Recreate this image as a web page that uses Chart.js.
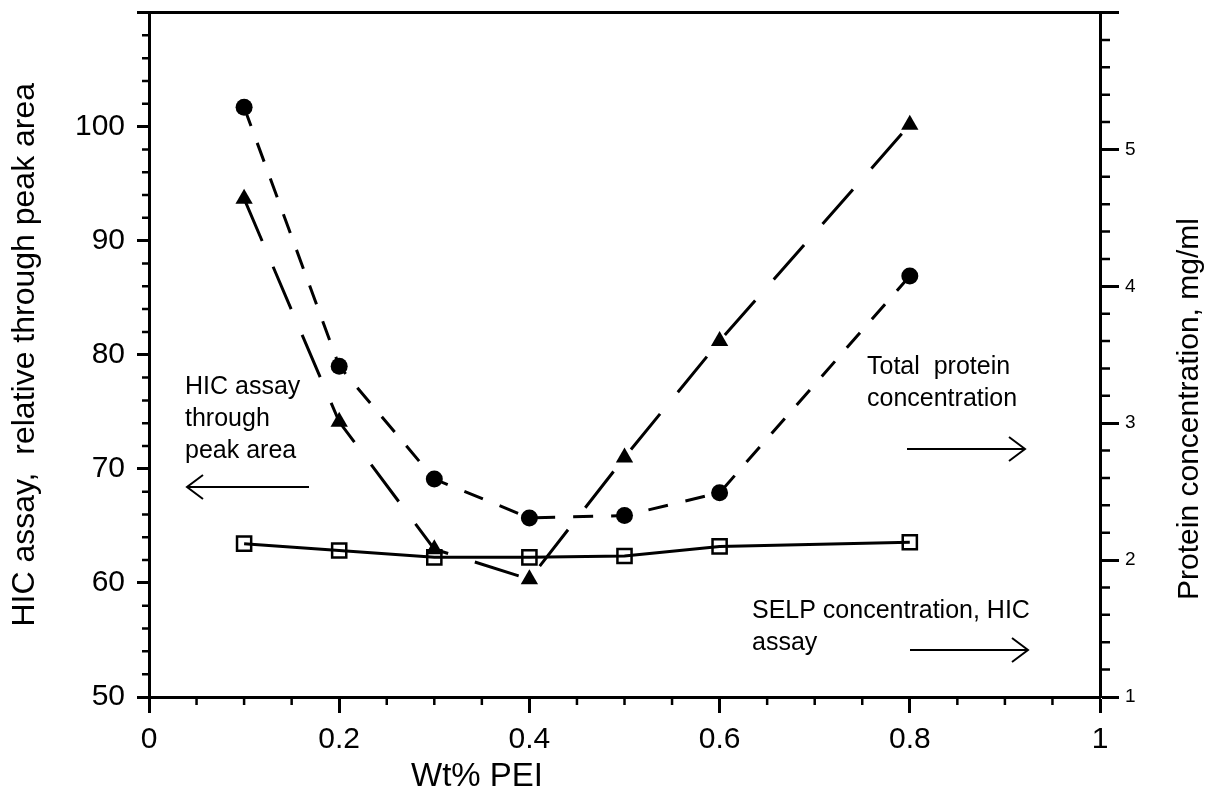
<!DOCTYPE html>
<html><head><meta charset="utf-8">
<script src="https://cdn.jsdelivr.net/npm/chart.js@4/dist/chart.umd.min.js"></script>
<style>html,body{margin:0;padding:0;background:#fff;} #wrap{width:1207px;height:807px;position:relative;}</style>
</head><body><div id="wrap"><canvas id="c" width="1207" height="807"></canvas></div>
<script>
// ---- data ----
const wtPEI = [0.1, 0.2, 0.3, 0.4, 0.5, 0.6, 0.8];
const hicPeakArea = [101.7, 79.0, 69.1, 65.7, 65.9, 67.9, 86.9];   // left axis
const totalProtein = [4.64, 3.01, 2.08, 1.86, 2.75, 3.60, 5.18];  // right axis, mg/ml
const selpConc = [2.12, 2.07, 2.02, 2.02, 2.03, 2.10, 2.13];      // right axis, mg/ml
const xTicks = [0, 0.2, 0.4, 0.6, 0.8, 1];
const xTickLabels = ['0', '0.2', '0.4', '0.6', '0.8', '1'];
const leftTicks = [50, 60, 70, 80, 90, 100];
const rightTicks = [1, 2, 3, 4, 5];
const xTitle = 'Wt% PEI';
const leftTitle = 'HIC assay,  relative through peak area';
const rightTitle = 'Protein concentration, mg/ml';
const noteHIC = ['HIC assay', 'through', 'peak area'];
const noteTotal = ['Total  protein', 'concentration'];
const noteSELP = ['SELP concentration, HIC', 'assay'];

const FONT = '"Liberation Sans", Arial, Helvetica, sans-serif';
const pts = (ys) => wtPEI.map((x, i) => ({x: x, y: ys[i]}));
const near = (arr, v, eps) => arr.findIndex(t => Math.abs(t - v) < eps);

function arrow(ctx, x1, x2, y) {
  const dir = Math.sign(x2 - x1);
  ctx.beginPath();
  ctx.moveTo(x1, y); ctx.lineTo(x2, y);
  ctx.moveTo(x2 - dir * 16, y - 12); ctx.lineTo(x2, y); ctx.lineTo(x2 - dir * 16, y + 12);
  ctx.stroke();
}

const decor = {
  id: 'decor',
  afterDraw(chart) {
    const ctx = chart.ctx;
    const {left, right, top, bottom} = chart.chartArea;
    const sx = chart.scales.x, sy = chart.scales.y, sy2 = chart.scales.y2;
    ctx.save();
    ctx.strokeStyle = '#000';
    ctx.fillStyle = '#000';
    ctx.lineCap = 'butt';
    // top frame line
    ctx.lineWidth = 3;
    ctx.beginPath(); ctx.moveTo(left - 1, top); ctx.lineTo(right + 1, top); ctx.stroke();
    // minor ticks
    ctx.lineWidth = 2.5;
    ctx.beginPath();
    for (let k = 0; k <= 20; k++) {
      if (k % 4 === 0) continue;
      const px = sx.getPixelForValue(k * 0.05);
      ctx.moveTo(px, bottom); ctx.lineTo(px, bottom + 8);
    }
    for (let k = 0; k <= 30; k++) {
      if (k % 5 === 0) continue;
      const py = sy.getPixelForValue(50 + k * 2);
      ctx.moveTo(left - 7, py); ctx.lineTo(left, py);
    }
    for (let k = 0; k <= 25; k++) {
      if (k % 5 === 0) continue;
      const py = sy2.getPixelForValue(1 + k * 0.2);
      ctx.moveTo(right, py); ctx.lineTo(right + 10, py);
    }
    ctx.stroke();
    // axis titles drawn here (x and right)
    ctx.textAlign = 'center';
    ctx.textBaseline = 'alphabetic';
    ctx.font = '33px ' + FONT;
    ctx.fillText(xTitle, 477, 786);
    ctx.save();
    ctx.translate(1198, 409);
    ctx.rotate(-Math.PI / 2);
    ctx.font = '30px ' + FONT;
    ctx.fillText(rightTitle, 0, 0);
    ctx.restore();
    // annotations
    ctx.textAlign = 'left';
    ctx.font = '25px ' + FONT;
    noteHIC.forEach((t, i) => ctx.fillText(t, 185, 394 + i * 32));
    noteTotal.forEach((t, i) => ctx.fillText(t, 867, 374 + i * 32));
    noteSELP.forEach((t, i) => ctx.fillText(t, 752, 618 + i * 32));
    ctx.lineWidth = 2;
    arrow(ctx, 309, 187, 487);
    arrow(ctx, 907, 1025, 449);
    arrow(ctx, 910, 1028, 650);
    ctx.restore();
  }
};

const noVPad = (w) => (s) => { s.width = w; s.paddingTop = 0; s.paddingBottom = 0; };

new Chart(document.getElementById('c'), {
  type: 'line',
  data: {
    datasets: [
      {
        label: 'HIC assay through peak area',
        data: pts(hicPeakArea), yAxisID: 'y',
        borderColor: '#000', borderWidth: 3, borderDash: [20, 18],
        pointStyle: 'circle', pointRadius: 8.5, pointBackgroundColor: '#000', pointBorderWidth: 0,
        tension: 0, fill: false
      },
      {
        label: 'Total protein concentration',
        data: pts(totalProtein), yAxisID: 'y2',
        borderColor: '#000', borderWidth: 3, borderDash: [46, 28],
        pointStyle: 'triangle', pointRadius: 10, pointBackgroundColor: '#000', pointBorderWidth: 0,
        tension: 0, fill: false
      },
      {
        label: 'SELP concentration, HIC assay',
        data: pts(selpConc), yAxisID: 'y2',
        borderColor: '#000', borderWidth: 3,
        pointStyle: 'rect', pointRadius: 10, pointBackgroundColor: 'rgba(0,0,0,0)',
        pointBorderColor: '#000', pointBorderWidth: 2.5,
        tension: 0, fill: false
      }
    ]
  },
  options: {
    responsive: false,
    animation: false,
    devicePixelRatio: 1,
    layout: {padding: {top: 11, left: 0, right: 0, bottom: 0}},
    plugins: {legend: {display: false}, tooltip: {enabled: false}},
    scales: {
      x: {
        type: 'linear', position: 'bottom', min: 0, max: 1,
        afterFit: (s) => { s.height = 110; s.paddingLeft = 0; s.paddingRight = 0; },
        ticks: {
          stepSize: 0.2, color: '#000', padding: 9, maxRotation: 0,
          font: {family: FONT, size: 30},
          callback: (v) => { const i = near(xTicks, v, 1e-6); return i >= 0 ? xTickLabels[i] : ''; }
        },
        grid: {display: true, drawOnChartArea: false, drawTicks: true, tickLength: 16, tickWidth: 3, tickColor: '#000'},
        border: {display: true, color: '#000', width: 3}
      },
      y: {
        type: 'linear', position: 'left', min: 50, max: 110,
        afterFit: noVPad(149),
        ticks: {
          stepSize: 10, color: '#000', padding: 12,
          font: {family: FONT, size: 30},
          callback: (v) => { const i = near(leftTicks, v, 1e-6); return i >= 0 ? String(leftTicks[i]) : ''; }
        },
        grid: {display: true, drawOnChartArea: false, drawTicks: true, tickLength: 12, tickWidth: 3, tickColor: '#000'},
        border: {display: true, color: '#000', width: 3},
        title: {display: true, text: leftTitle, color: '#000', font: {family: FONT, size: 32}, padding: {top: 6, bottom: 0}}
      },
      y2: {
        type: 'linear', position: 'right', min: 1, max: 6,
        afterFit: noVPad(107),
        ticks: {
          stepSize: 1, color: '#000', padding: 6,
          font: {family: FONT, size: 19},
          callback: (v) => { const i = near(rightTicks, v, 1e-6); return i >= 0 ? String(rightTicks[i]) : ''; }
        },
        grid: {display: true, drawOnChartArea: false, drawTicks: true, tickLength: 19, tickWidth: 3, tickColor: '#000'},
        border: {display: true, color: '#000', width: 3}
      }
    }
  },
  plugins: [decor]
});
</script>
</body></html>
